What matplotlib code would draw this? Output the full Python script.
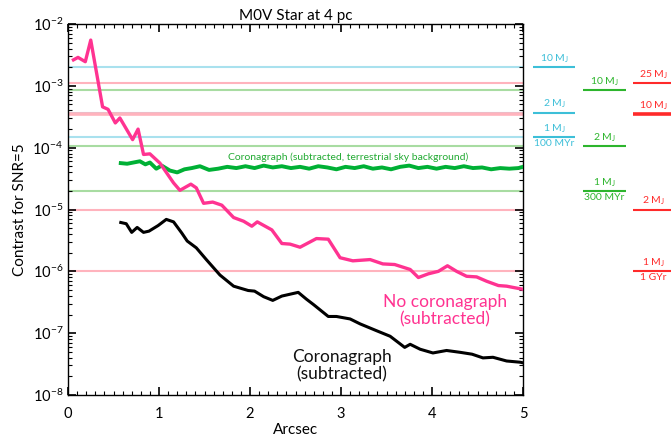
import matplotlib
matplotlib.use("Agg")
import matplotlib.pyplot as plt
import numpy as np
from matplotlib.transforms import blended_transform_factory
from matplotlib.ticker import LogLocator, MultipleLocator

plt.rcParams['font.family'] = ['Lato', 'DejaVu Sans']
plt.rcParams['mathtext.fontset'] = 'custom'
plt.rcParams['mathtext.rm'] = 'Lato'

# ---------------- data (log10 contrast) ----------------
nocoro_x = [0.06, 0.11, 0.19, 0.25, 0.38, 0.44, 0.52, 0.57, 0.71, 0.77, 0.83, 0.90,
            1.01, 1.16, 1.23, 1.35, 1.41, 1.49, 1.59, 1.69, 1.82, 1.93, 2.02, 2.08,
            2.24, 2.35, 2.44, 2.55, 2.73, 2.86, 2.99, 3.13, 3.32, 3.46, 3.59, 3.76,
            3.85, 3.96, 4.07, 4.17, 4.27, 4.38, 4.49, 4.60, 4.73, 4.82, 4.89, 5.00]
nocoro_log = [-2.58, -2.54, -2.61, -2.26, -3.34, -3.38, -3.60, -3.52, -3.87, -3.70, -4.11, -4.10,
              -4.25, -4.57, -4.69, -4.59, -4.65, -4.90, -4.88, -4.93, -5.13, -5.19, -5.27, -5.20,
              -5.33, -5.55, -5.56, -5.61, -5.47, -5.48, -5.78, -5.83, -5.81, -5.88, -5.89, -5.97,
              -6.10, -6.04, -6.00, -5.91, -6.00, -6.08, -6.09, -6.16, -6.23, -6.24, -6.26, -6.29]

coro_x = [0.58, 0.64, 0.70, 0.76, 0.83, 0.89, 0.99, 1.08, 1.16, 1.25, 1.31, 1.41,
          1.52, 1.67, 1.82, 1.98, 2.05, 2.15, 2.25, 2.35, 2.53, 2.62, 2.70, 2.86,
          2.95, 3.10, 3.21, 3.39, 3.54, 3.70, 3.76, 3.87, 4.01, 4.16, 4.31, 4.44,
          4.56, 4.67, 4.82, 4.97, 5.00]
coro_log = [-5.21, -5.23, -5.37, -5.29, -5.37, -5.35, -5.26, -5.16, -5.20, -5.38, -5.51, -5.62,
            -5.81, -6.06, -6.24, -6.31, -6.32, -6.41, -6.47, -6.40, -6.34, -6.45, -6.54, -6.73,
            -6.73, -6.77, -6.85, -6.96, -7.05, -7.23, -7.18, -7.26, -7.32, -7.28, -7.31, -7.34,
            -7.40, -7.39, -7.45, -7.47, -7.48]

sky_x = [0.58, 0.65, 0.72, 0.79, 0.85, 0.90, 0.97, 1.03, 1.12, 1.20, 1.28, 1.36, 1.45,
         1.55, 1.65, 1.75, 1.85, 1.95, 2.05, 2.15, 2.25, 2.35, 2.45, 2.55, 2.65, 2.75,
         2.85, 2.95, 3.05, 3.15, 3.25, 3.35, 3.45, 3.55, 3.65, 3.75, 3.85, 3.95, 4.05,
         4.15, 4.25, 4.35, 4.45, 4.55, 4.65, 4.75, 4.85, 4.95, 5.00]
sky_log = [-4.25, -4.26, -4.24, -4.22, -4.27, -4.24, -4.34, -4.29, -4.37, -4.40, -4.35, -4.33, -4.30,
           -4.36, -4.34, -4.31, -4.33, -4.30, -4.33, -4.29, -4.32, -4.30, -4.33, -4.31, -4.34, -4.30,
           -4.32, -4.35, -4.31, -4.33, -4.30, -4.34, -4.32, -4.35, -4.31, -4.29, -4.33, -4.31, -4.34,
           -4.31, -4.33, -4.30, -4.33, -4.32, -4.35, -4.33, -4.34, -4.33, -4.31]

# planet contrast levels (three model columns)
cyan_levels = [2.0e-3, 3.7e-4, 1.5e-4]
cyan_labels = ["10 M$_\\mathregular{J}$", "2 M$_\\mathregular{J}$", "1 M$_\\mathregular{J}$"]
cyan_sub = [None, None, "100 MYr"]
green_levels = [8.5e-4, 1.08e-4, 2.0e-5]
green_labels = ["10 M$_\\mathregular{J}$", "2 M$_\\mathregular{J}$", "1 M$_\\mathregular{J}$"]
green_sub = [None, None, "300 MYr"]
red_levels = [1.1e-3, 3.5e-4, 1.0e-5, 1.0e-6]
red_labels = ["25 M$_\\mathregular{J}$", "10 M$_\\mathregular{J}$", "2 M$_\\mathregular{J}$", "1 M$_\\mathregular{J}$"]
red_sub = [None, None, None, "1 GYr"]
red_widths = [1.5, 2.6, 1.5, 1.5]

# ---------------- figure ----------------
fig = plt.figure(figsize=(6.71, 4.42), dpi=100)
ax = fig.add_axes([68/671, 1-395/442, 455/671, 371/442])
ax.set_yscale('log')
ax.set_xlim(0, 5)
ax.set_ylim(1e-8, 1e-2)

light = {'cyan': '#a9e1ee', 'green': '#a8dca2', 'red': '#ffb3bd'}
strong = {'cyan': '#3dbfd8', 'green': '#2db52d', 'red': '#ff2a2a'}

trans = blended_transform_factory(ax.transAxes, ax.transData)
cols = [
    ('cyan', cyan_levels, cyan_labels, cyan_sub, [1.5]*3, (1.022, 1.114)),
    ('green', green_levels, green_labels, green_sub, [1.5]*3, (1.132, 1.226)),
    ('red', red_levels, red_labels, red_sub, red_widths, (1.242, 1.33)),
]
for name, levels, labels, subs, widths, (x0, x1) in cols:
    for lev, lab, sub, lw in zip(levels, labels, subs, widths):
        ax.axhline(lev, color=light[name], lw=lw, zorder=1)
        ax.plot([x0, x1], [lev, lev], transform=trans, color=strong[name], lw=lw,
                clip_on=False, solid_capstyle='butt')
        xc = (x0 + x1) / 2
        ax.annotate(lab, xy=(xc, lev), xycoords=trans, xytext=(0, 1.5),
                    textcoords='offset points', ha='center', va='bottom',
                    fontsize=7.5, color=strong[name], annotation_clip=False)
        if sub:
            ax.annotate(sub, xy=(xc, lev), xycoords=trans, xytext=(0, -1.5),
                        textcoords='offset points', ha='center', va='top',
                        fontsize=7.5, color=strong[name], annotation_clip=False)

ax.plot(sky_x, 10**np.array(sky_log), color='#00b035', lw=2.8, zorder=3)
ax.plot(nocoro_x, 10**np.array(nocoro_log), color='#ff3391', lw=2.4, zorder=4)
ax.plot(coro_x, 10**np.array(coro_log), color='black', lw=2.2, zorder=5)

ax.text(3.08, 10**-4.16, "Coronagraph (subtracted, terrestrial sky background)",
        color='#22aa33', fontsize=7.5, ha='center', va='center')
ax.text(4.14, 10**-6.63, "No coronagraph\n(subtracted)", color='#ff3391',
        fontsize=12.5, ha='center', va='center', linespacing=1.1)
ax.text(3.01, 10**-7.53, "Coronagraph\n(subtracted)", color='#111111',
        fontsize=12.5, ha='center', va='center', linespacing=1.1)

ax.set_title("M0V Star at 4 pc", fontsize=11, pad=3)
ax.set_xlabel("Arcsec", fontsize=11, labelpad=1)
ax.set_ylabel("Contrast for SNR=5", fontsize=11, labelpad=4)

ax.xaxis.set_major_locator(MultipleLocator(1))
ax.xaxis.set_minor_locator(MultipleLocator(0.1))
ax.yaxis.set_major_locator(LogLocator(base=10, numticks=10))
ax.yaxis.set_minor_locator(LogLocator(base=10, subs=np.arange(2, 10), numticks=20))
ax.tick_params(which='both', direction='in', top=True, right=True, labelsize=10.5)
ax.tick_params(which='major', length=6, width=1.2)
ax.tick_params(which='minor', length=3, width=0.8)
ax.tick_params(axis='x', which='major', pad=9)
for s in ax.spines.values():
    s.set_linewidth(1.0)

fig.savefig("out.png", dpi=100)
